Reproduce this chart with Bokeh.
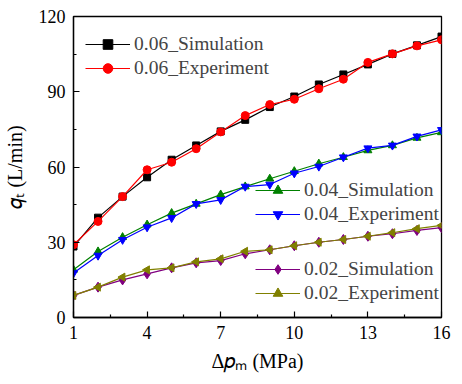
import numpy as np
from bokeh.plotting import figure
from bokeh.models import Range1d, FixedTicker, Legend, LegendItem
from bokeh.embed import file_html
from bokeh.resources import INLINE

# ---- data ----
dp = [1, 2, 3, 4, 5, 6, 7, 8, 9, 10, 11, 12, 13, 14, 15, 16]
sim06 = [28.3, 39.8, 48.2, 55.9, 62.9, 68.6, 74.2, 78.8, 83.9, 88.1, 92.9, 96.9, 100.9, 105.1, 108.5, 112.0]
exp06 = [29.0, 38.3, 48.2, 58.9, 61.9, 67.3, 74.0, 80.5, 84.9, 87.0, 91.2, 95.0, 101.7, 105.1, 108.3, 110.7]
sim04 = [19.0, 26.3, 32.0, 37.0, 41.6, 45.3, 49.0, 52.2, 55.3, 58.3, 61.3, 63.9, 66.6, 68.6, 71.6, 73.8]
exp04 = [17.7, 24.7, 31.0, 36.0, 39.7, 45.3, 46.9, 52.2, 53.0, 57.5, 60.2, 63.9, 67.5, 68.6, 72.2, 74.8]
sim02 = [8.8, 12.1, 15.0, 17.4, 19.8, 21.8, 22.7, 25.4, 27.0, 28.6, 30.0, 31.1, 32.4, 33.4, 34.7, 35.8]
exp02 = [8.8, 12.1, 16.1, 19.0, 19.8, 22.2, 23.4, 26.4, 27.0, 28.6, 30.0, 31.1, 32.4, 33.8, 35.4, 36.7]

x_ticks = [1, 4, 7, 10, 13, 16]
x_minor = [2.5, 5.5, 8.5, 11.5, 14.5]
y_ticks = [0, 30, 60, 90, 120]
y_minor = [15, 45, 75, 105]

x_title = "\u0394\U0001D45D\u2098 (MPa)"
y_title = "\U0001D45E\u209C (L/min)"

FONT = "Liberation Serif"

p = figure(width=462, height=384, output_backend="svg", toolbar_location=None,
           x_range=Range1d(1, 16), y_range=Range1d(0, 120),
           min_border_left=73, min_border_right=21, min_border_top=16, min_border_bottom=67)
p.grid.visible = False
p.outline_line_color = "black"
p.outline_line_width = 1.3
p.background_fill_color = "white"
p.border_fill_color = "white"

for ax in (p.xaxis[0], p.yaxis[0]):
    ax.axis_line_width = 1.3
    ax.major_tick_in = 6
    ax.major_tick_out = 0
    ax.minor_tick_in = 3
    ax.minor_tick_out = 0
    ax.major_tick_line_width = 1.2
    ax.minor_tick_line_width = 1.2
    ax.major_label_text_font = FONT
    ax.major_label_text_font_size = "18px"
    ax.major_label_text_color = "black"
    ax.major_label_standoff = 8
    ax.axis_label_text_font = FONT
    ax.axis_label_text_font_size = "20px"
    ax.axis_label_text_font_style = "normal"
    ax.axis_label_text_color = "black"

p.xaxis.ticker = FixedTicker(ticks=x_ticks, minor_ticks=x_minor)
p.yaxis.ticker = FixedTicker(ticks=y_ticks, minor_ticks=y_minor)
p.xaxis.axis_label = x_title
p.yaxis.axis_label = y_title
p.xaxis.axis_label_standoff = 8
p.yaxis.axis_label_standoff = 10

series = [
    ("0.06_Simulation", sim06, "black", "square", 7, 0),
    ("0.06_Experiment", exp06, "red", "circle", 8, 0),
    ("0.04_Simulation", sim04, "green", "triangle", 8, 0),
    ("0.04_Experiment", exp04, "blue", "inverted_triangle", 8, 0),
    ("0.02_Simulation", sim02, "purple", "diamond", 10, 0),
    ("0.02_Experiment", exp02, "olive", "triangle", 8, np.pi / 2),
]

items = []
for name, ys, col, mk, sz, ang in series:
    lr = p.line(dp, ys, line_color=col, line_width=1.2)
    sr = p.scatter(dp, ys, marker=mk, size=sz, fill_color=col, line_color=col, angle=ang)
    items.append(LegendItem(label=name, renderers=[lr, sr]))

def make_legend(its, loc):
    lg = Legend(items=its, location=loc, padding=0, margin=0, spacing=0,
                glyph_width=45, glyph_height=24, label_height=24, label_standoff=4,
                label_text_font=FONT, label_text_font_size="19.5px",
                background_fill_alpha=0, border_line_color=None)
    p.add_layout(lg, "center")

make_legend(items[0:2], (12, 237))
make_legend(items[2:4], (182, 91))
make_legend(items[4:6], (182, 12))

open("out.html", "w").write(file_html(p, INLINE))
